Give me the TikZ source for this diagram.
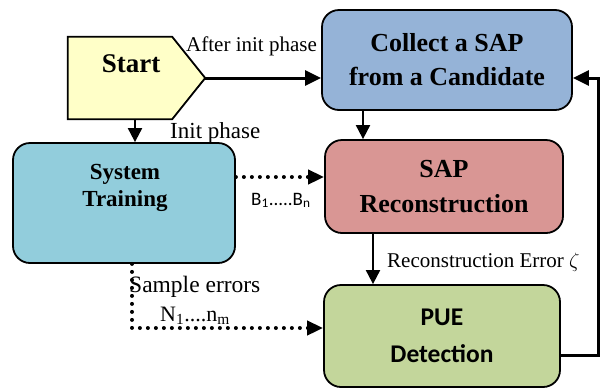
\documentclass[tikz,border=0pt]{standalone}
\usepackage{fontspec}
\setmainfont{Liberation Serif}
\newfontfamily\calfont{Carlito}
\usetikzlibrary{arrows.meta}
\definecolor{startfill}{RGB}{255,255,200}
\definecolor{collectfill}{RGB}{149,179,215}
\definecolor{sapfill}{RGB}{217,150,148}
\definecolor{trainfill}{RGB}{146,205,220}
\definecolor{puefill}{RGB}{195,214,155}
\tikzset{
  box/.style={draw=black, line width=1.8pt, rounded corners=17pt, inner sep=0pt, align=center},
  boxtext/.style={font=\bfseries\fontsize{26}{34}\selectfont, align=center, inner sep=0pt},
  lbl/.style={font=\fontsize{21}{24}\selectfont, inner sep=0pt},
  conn/.style={line width=2pt, -{Triangle[length=14pt,width=14pt]}},
  thick conn/.style={line width=3pt, -{Triangle[length=16pt,width=15pt]}},
  dotconn/.style={line width=4pt, dash pattern=on 0pt off 8pt, line cap=round, -{Triangle[length=16pt,width=14pt,line cap=butt]}},
}
\begin{document}
\begin{tikzpicture}[x=1pt,y=-1pt]
\useasboundingbox (0,0) rectangle (602,389);
% Start
\node[minimum width=137pt, minimum height=82pt, inner sep=0pt] (start) at (136.5,78) {};
\draw[line width=1.8pt, fill=startfill, line join=miter]
  (start.north west) -- ([xshift=-33pt]start.north east) -- (start.east)
  -- ([xshift=-33pt]start.south east) -- (start.south west) -- cycle;
\node[boxtext, font=\bfseries\fontsize{27}{34}\selectfont] (starttext) at (131,64) {Start};
% Boxes
\node[box, fill=collectfill, minimum width=250pt, minimum height=100pt, font=\bfseries\fontsize{26}{34}\selectfont] (collect) at (447,60) {Collect a SAP\\from a Candidate};
\node[box, fill=sapfill, minimum width=238pt, minimum height=93pt, font=\bfseries\fontsize{26}{35}\selectfont] (sap) at (444,186.5) {SAP\\Reconstruction};
\node[box, fill=trainfill, minimum width=222pt, minimum height=120pt] (train) at (124,203) {};
\node[boxtext, font=\bfseries\fontsize{23}{27}\selectfont] (traintext) at (125,188) {System\\Training};
\node[box, fill=puefill, minimum width=236pt, minimum height=102pt, font=\calfont\bfseries\fontsize{25.5}{37}\selectfont] (pue) at (442,336) {PUE\\Detection};
% coordinates
\coordinate (fbr) at (598,355);
\coordinate (fbt) at (598,78);
\coordinate (dcorner) at (132,328);
% connectors
\draw[thick conn] (start.east) -- (collect.west |- start.east);
\node[lbl, anchor=base west] (lafter) at (186,51) {After init phase};
\draw[conn] (start.south -| 135,0) -- (train.north -| 135,0);
\node[lbl, anchor=base west, font=\fontsize{23}{26}\selectfont] (linit) at (170,138) {Init phase};
\draw[conn] (collect.south -| 363,0) -- (sap.north -| 363,0);
\draw[dotconn] (train.east |- 0,177) -- (sap.west |- 0,177);
\node[font=\calfont\fontsize{19}{22}\selectfont, inner sep=0pt, anchor=base west] (lb) at (251,205) {B\textsubscript{1}.....B\textsubscript{n}};
\draw[conn] (sap.south -| 373,0) -- (pue.north -| 373,0);
\node[lbl, anchor=base west] (lrec) at (387,267) {Reconstruction Error $\zeta$};
\draw[dotconn] (train.south -| dcorner) -- (dcorner) -- (pue.west |- dcorner);
\node[lbl, anchor=base west, font=\fontsize{23.5}{26}\selectfont] (lsample) at (129,292) {Sample errors};
\node[lbl, anchor=base west, font=\fontsize{22}{26}\selectfont] (ln) at (160,321) {N\textsubscript{1}....n\textsubscript{m}};
\draw[thick conn, rounded corners=0pt] (pue.east |- fbr) -- (fbr) -- (fbt) -- (collect.east |- fbt);
\end{tikzpicture}
\end{document}
